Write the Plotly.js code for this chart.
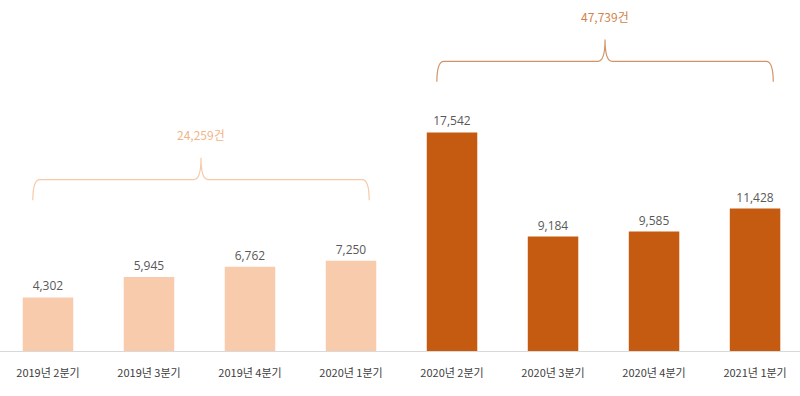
<!DOCTYPE html>
<html><head><meta charset="utf-8">
<script src="https://cdn.plot.ly/plotly-3.0.1.min.js"></script>
<style>html,body{margin:0;padding:0;background:#fff}#c{width:800px;height:396px}</style>
</head><body><div id="c"></div>
<script>
const categories = ["2019년 2분기","2019년 3분기","2019년 4분기","2020년 1분기","2020년 2분기","2020년 3분기","2020년 4분기","2021년 1분기"];
const values = [4302, 5945, 6762, 7250, 17542, 9184, 9585, 11428];
const groupIndex = [0,0,0,0,1,1,1,1];
const groupTotals = ["24,259건", "47,739건"];

const barColors = ["#F8CBAD", "#C55A11"];
const braceColors = ["#F6C9A8", "#D29467"];
const totalTextColors = ["#F2B489", "#D0834B"];
const braceBase = [12100, 21600]; // y level (data units) where the brace tips end

const shapes = [], annotations = [];
[0,1].forEach(g => {
  const idx = groupIndex.map((v,i)=>v===g?i:-1).filter(i=>i>=0);
  const x0 = idx[0] - 0.15, x1 = idx[idx.length-1] + 0.18, xc = (x0 + x1) / 2;
  const yb = braceBase[g], yh = yb + 1650, yt = yh + 1750;
  const dx = 0.07;
  const p = `M ${x0},${yb} Q ${x0},${yh} ${x0+dx},${yh} L ${xc-dx},${yh} Q ${xc},${yh} ${xc},${yt} Q ${xc},${yh} ${xc+dx},${yh} L ${x1-dx},${yh} Q ${x1},${yh} ${x1},${yb}`;
  shapes.push({type:"path", xref:"x", yref:"y", path:p, line:{color:braceColors[g], width:1.2}});
  annotations.push({x:xc, y:yt + 1850, xref:"x", yref:"y", text:groupTotals[g], showarrow:false,
    font:{family:"Noto Sans CJK KR, Open Sans, sans-serif", size:12, color:totalTextColors[g]}});
});

const trace = {
  type:"bar", x:categories.map((c,i)=>i), y:values,
  marker:{color:values.map((v,i)=>barColors[groupIndex[i]])},
  text:values.map(v=>v.toLocaleString("en-US")), textposition:"outside", cliponaxis:false,
  textfont:{family:"Open Sans, Noto Sans CJK KR, sans-serif", size:12, color:"#595959"},
  hoverinfo:"none"
};

const layout = {
  width:800, height:396, margin:{l:0, r:0, t:0, b:45},
  paper_bgcolor:"#fff", plot_bgcolor:"#fff", showlegend:false, bargap:0.5,
  xaxis:{range:[-0.475, 7.445], tickvals:categories.map((c,i)=>i), ticktext:categories,
    showgrid:false, zeroline:false, showline:true, linecolor:"#D9D9D9", linewidth:1, ticks:"",
    ticklabelstandoff:12,
    tickfont:{family:"Noto Sans CJK KR, sans-serif", size:11, color:"#404040"}},
  yaxis:{range:[0, 28170], visible:false, showgrid:false, zeroline:false},
  shapes:shapes, annotations:annotations
};
Plotly.newPlot("c", [trace], layout, {staticPlot:true});
</script></body></html>
